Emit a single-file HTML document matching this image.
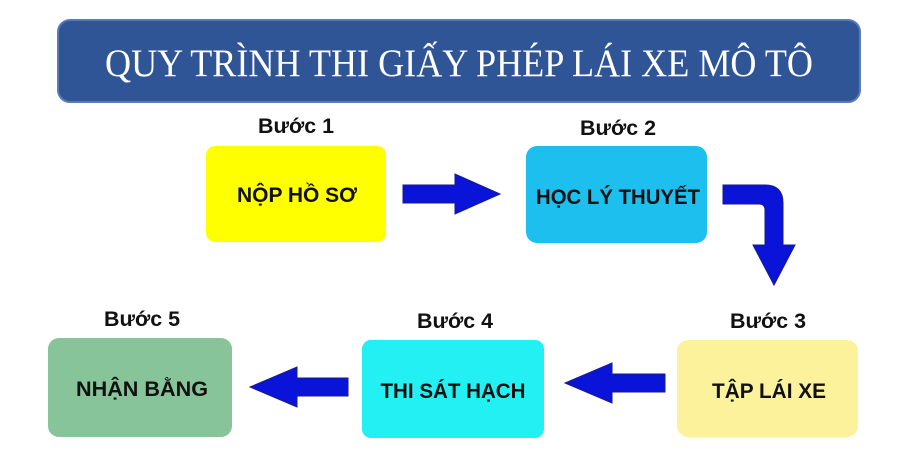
<!DOCTYPE html>
<html><head><meta charset="utf-8"><style>
body{margin:0;width:900px;height:450px;background:#fff;overflow:hidden}
svg{display:block}
.b{font-family:"Liberation Sans","DejaVu Sans",sans-serif;font-weight:bold;fill:#111}
</style></head><body>
<svg width="900" height="450" viewBox="0 0 900 450">
<rect x="58" y="20" width="802" height="82" rx="12" fill="#2f5597" stroke="#5a7ab8" stroke-width="2"/>
<text x="459" y="76" text-anchor="middle" font-family="'Liberation Serif',serif" font-size="39" fill="#fff" textLength="708" lengthAdjust="spacingAndGlyphs">QUY TRÌNH THI GIẤY PHÉP LÁI XE MÔ TÔ</text>

<text class="b" x="296" y="133" text-anchor="middle" font-size="21" textLength="76" lengthAdjust="spacingAndGlyphs">Bước 1</text>
<text class="b" x="618" y="135" text-anchor="middle" font-size="21" textLength="76" lengthAdjust="spacingAndGlyphs">Bước 2</text>
<text class="b" x="768" y="328" text-anchor="middle" font-size="21" textLength="76" lengthAdjust="spacingAndGlyphs">Bước 3</text>
<text class="b" x="455" y="328" text-anchor="middle" font-size="21" textLength="76" lengthAdjust="spacingAndGlyphs">Bước 4</text>
<text class="b" x="142" y="326" text-anchor="middle" font-size="21" textLength="76" lengthAdjust="spacingAndGlyphs">Bước 5</text>

<rect x="206" y="146" width="180" height="96" rx="9" fill="#ffff00"/>
<rect x="526" y="146" width="181" height="97" rx="11" fill="#1cbfee"/>
<rect x="677" y="340" width="181" height="97" rx="11" fill="#fdf29c"/>
<rect x="362" y="340" width="182" height="98" rx="9" fill="#22f0f3"/>
<rect x="48" y="338" width="184" height="99" rx="11" fill="#87c49a"/>

<text class="b" x="297" y="202" text-anchor="middle" font-size="21" textLength="120" lengthAdjust="spacingAndGlyphs">NỘP HỒ SƠ</text>
<text class="b" x="618" y="204" text-anchor="middle" font-size="21" textLength="164" lengthAdjust="spacingAndGlyphs">HỌC LÝ THUYẾT</text>
<text class="b" x="769" y="398" text-anchor="middle" font-size="21" textLength="114" lengthAdjust="spacingAndGlyphs">TẬP LÁI XE</text>
<text class="b" x="453" y="398" text-anchor="middle" font-size="21" textLength="145" lengthAdjust="spacingAndGlyphs">THI SÁT HẠCH</text>
<text class="b" x="142" y="396" text-anchor="middle" font-size="21" textLength="132" lengthAdjust="spacingAndGlyphs">NHẬN BẰNG</text>

<g fill="#0a14d8" stroke="#1a1a8a" stroke-width="1">
<polygon points="403,185 455,185 455,174 500,194 455,214 455,203 403,203"/>
<path d="M723,185 L765,185 Q783,185 783,203 L783,245 L795,245 L774,285 L753,245 L765,245 L765,210 Q765,204 759,204 L723,204 Z"/>
<polygon points="348,378 297,378 297,367 250,387 297,407 297,396 348,396"/>
<polygon points="665,374 612,374 612,363 565,383 612,403 612,392 665,392"/>
</g>
</svg>
</body></html>
